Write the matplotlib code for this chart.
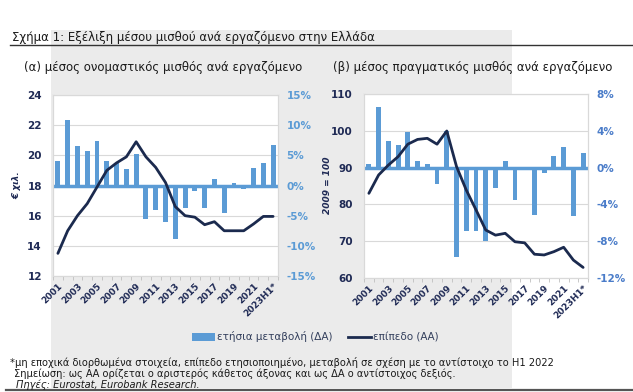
import matplotlib
matplotlib.use("Agg")
import matplotlib.pyplot as plt
from matplotlib.patches import Rectangle, Patch
from matplotlib.lines import Line2D
import numpy as np

plt.rcParams['font.family'] = ['DejaVu Sans']

categories = [str(y) for y in range(2001, 2023)] + ['2023H1*']

# (α) nominal wage: annual change (%, right axis) and level (€ thousand, left axis)
nominal_change = [4.1, 10.8, 6.5, 5.7, 7.4, 4.1, 3.7, 2.8, 5.3, -5.6, -4.1, -6.0,
                  -8.9, -3.7, -0.9, -3.7, 1.1, -4.6, 0.4, -0.6, 2.9, 3.8, 6.7]
nominal_level = [13.5, 15.0, 16.0, 16.8, 17.9, 19.0, 19.5, 19.9, 20.9, 19.9, 19.2, 18.2,
                 16.6, 16.0, 15.9, 15.4, 15.6, 15.0, 15.0, 15.0, 15.45, 15.95, 15.95]

# (β) real wage: annual change (%, right axis) and index 2009=100 (left axis)
real_change = [0.4, 6.6, 2.9, 2.5, 3.9, 0.7, 0.4, -1.8, 4.0, -9.7, -6.9, -6.9,
               -8.0, -2.2, 0.7, -3.5, -0.3, -5.2, -0.6, 1.3, 2.3, -5.3, 1.6]
real_level = [83.0, 88.0, 90.7, 93.0, 96.4, 97.7, 98.0, 96.4, 100.0, 90.3, 83.9, 78.5,
              73.0, 71.6, 72.1, 69.8, 69.5, 66.4, 66.2, 67.1, 68.3, 64.8, 62.8]

left_ticks_a = [12, 14, 16, 18, 20, 22, 24]
right_ticks_a = [-15, -10, -5, 0, 5, 10, 15]
left_ticks_b = [60, 70, 80, 90, 100, 110]
right_ticks_b = [-12, -8, -4, 0, 4, 8]

title = "Σχήμα 1: Εξέλιξη μέσου μισθού ανά εργαζόμενο στην Ελλάδα"
sub_a = "(α) μέσος ονομαστικός μισθός ανά εργαζόμενο"
sub_b = "(β) μέσος πραγματικός μισθός ανά εργαζόμενο"
ylabel_a = "€ χιλ."
ylabel_b = "2009 = 100"
legend_labels = ["ετήσια μεταβολή (ΔΑ)", "επίπεδο (ΑΑ)"]
notes = ["*μη εποχικά διορθωμένα στοιχεία, επίπεδο ετησιοποιημένο, μεταβολή σε σχέση με το αντίστοιχο το H1 2022",
         "Σημείωση: ως ΑΑ ορίζεται ο αριστερός κάθετος άξονας και ως ΔΑ ο αντίστοιχος δεξιός.",
         "Πηγές: Eurostat, Eurobank Research."]

BAR = "#5B9BD5"
NAVY = "#1B2A4E"
GRID = "#D9D9D9"
TXT = "#1F2A55"

W, H = 633, 392
fig = plt.figure(figsize=(W / 100, H / 100), dpi=100)
fig.patch.set_facecolor("white")


def fx(px):
    return px / W


def fy(py):
    return 1 - py / H


# gray background panel
fig.add_artist(Rectangle((fx(51), fy(388)), fx(512) - fx(51), fy(30) - fy(388),
                         transform=fig.transFigure, facecolor="#EBEBEB",
                         edgecolor="none", zorder=0))
# rules
fig.add_artist(Line2D([fx(10), 1], [fy(45), fy(45)], transform=fig.transFigure,
                      color="#333333", lw=1.0, zorder=1))
fig.add_artist(Line2D([fx(6), 1], [fy(389.5), fy(389.5)], transform=fig.transFigure,
                      color="#555555", lw=1.6, zorder=1))


def panel(rect, change, level, lticks, rticks, rcolor):
    x = np.arange(len(categories))
    axb = fig.add_axes(rect)
    axl = axb.twinx()
    axb.set_zorder(1)
    axl.set_zorder(2)
    axb.patch.set_facecolor("white")
    axb.patch.set_visible(True)
    axl.patch.set_visible(False)

    axb.bar(x, change, width=0.5, color=BAR, zorder=3)
    axb.axhline(0, color=BAR, lw=2.5, zorder=2.5)
    axb.set_ylim(rticks[0], rticks[-1])
    axb.set_yticks(rticks)
    axb.set_yticklabels([f"{t}%" for t in rticks])
    axb.yaxis.tick_right()
    axb.grid(axis="y", color=GRID, lw=0.8, zorder=0)
    axb.set_axisbelow(True)
    axb.tick_params(axis="y", which="both", length=0, colors=rcolor, labelsize=7.5, pad=6)
    for lab in axb.get_yticklabels():
        lab.set_fontweight("bold")

    axl.plot(x, level, color=NAVY, lw=2.0, zorder=4, solid_capstyle="round",
             solid_joinstyle="round")
    axl.set_ylim(lticks[0], lticks[-1])
    axl.set_yticks(lticks)
    axl.yaxis.tick_left()
    axl.tick_params(axis="y", length=0, colors=TXT, labelsize=7.5, pad=8)
    for lab in axl.get_yticklabels():
        lab.set_fontweight("bold")

    axb.set_xlim(-0.5, len(categories) - 0.5)
    axb.set_xticks(x[::2])
    axb.set_xticklabels(categories[::2], rotation=45, ha="right", va="top",
                        rotation_mode="anchor", fontsize=6.5, fontweight="bold", color=TXT)
    axb.set_xticks(np.arange(-0.5, len(categories), 1), minor=True)
    axb.tick_params(axis="x", which="major", length=0, pad=4)
    axb.tick_params(axis="x", which="minor", length=3, color="#BFBFBF")
    axl.tick_params(axis="x", length=0)

    for ax in (axb, axl):
        for s in ax.spines.values():
            s.set_color(GRID)
            s.set_linewidth(0.8)
    return axb, axl


panel([fx(53), fy(276), fx(278) - fx(53), fy(95) - fy(276)],
      nominal_change, nominal_level, left_ticks_a, right_ticks_a, "#5B9BD5")
panel([fx(364), fy(277.7), fx(588) - fx(364), fy(94.3) - fy(277.7)],
      real_change, real_level, left_ticks_b, right_ticks_b, "#4A7CC9")

fig.text(fx(12), fy(37), title, fontsize=8.5, color="#1a1a1a", va="center", ha="left")
fig.text(fx(24), fy(68), sub_a, fontsize=8.5, color="#1a1a1a", va="center", ha="left")
fig.text(fx(333), fy(68), sub_b, fontsize=8.5, color="#1a1a1a", va="center", ha="left")

fig.text(fx(17), fy(185), ylabel_a, rotation=90, fontsize=6.5, fontweight="bold",
         fontstyle="italic", color=TXT, va="center", ha="center")
fig.text(fx(328), fy(185), ylabel_b, rotation=90, fontsize=6.5, fontweight="bold",
         fontstyle="italic", color=TXT, va="center", ha="center")

handles = [Patch(facecolor=BAR, edgecolor="none"),
           Line2D([0], [0], color=NAVY, lw=2)]
fig.legend(handles, legend_labels, loc="center", bbox_to_anchor=(fx(315), fy(337)),
           ncol=2, frameon=False, fontsize=7.5, handlelength=2.2, handletextpad=0.2,
           columnspacing=1.5, labelcolor="#333F5C")

fig.text(fx(10), fy(362), notes[0], fontsize=7.15, color="#1a1a1a", va="center", ha="left")
fig.text(fx(14), fy(373.5), notes[1], fontsize=7.15, color="#1a1a1a", va="center", ha="left")
fig.text(fx(16), fy(384.5), notes[2], fontsize=7.15, color="#1a1a1a", va="center", ha="left",
         fontstyle="italic")

fig.savefig("out.png", dpi=100)
